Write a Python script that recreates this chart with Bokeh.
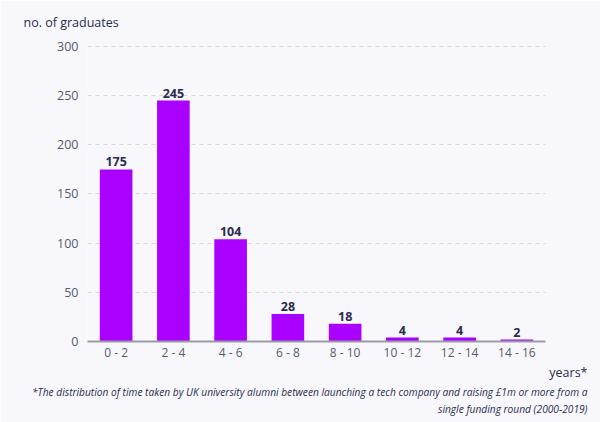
from bokeh.plotting import figure
from bokeh.models import FactorRange, Range1d, Title, FixedTicker, ColumnDataSource
from bokeh.core.properties import value
from bokeh.embed import file_html
from bokeh.resources import INLINE

categories = ["0 - 2", "2 - 4", "4 - 6", "6 - 8", "8 - 10", "10 - 12", "12 - 14", "14 - 16"]
graduates = [175, 245, 104, 28, 18, 4, 4, 2]
y_ticks = [0, 50, 100, 150, 200, 250, 300]

FONT = "Open Sans"
BG = "#f8f8fc"
BAR = "#aa00ff"
DARK = "#2a2c4e"
GREY = "#555a6e"

src = ColumnDataSource(dict(cat=categories, val=graduates, lab=[str(v) for v in graduates]))

p = figure(x_range=FactorRange(*categories), y_range=Range1d(0, 301),
           width=600, height=422, output_backend="svg", toolbar_location=None,
           min_border_left=87, min_border_right=55, min_border_top=45, min_border_bottom=81)
p.background_fill_color = BG
p.border_fill_color = BG
p.outline_line_color = None

p.vbar(x="cat", top="val", width=0.57, source=src, color=BAR, line_color=None)
p.text(x="cat", y="val", text="lab", source=src, text_align="center", text_baseline="bottom",
       y_offset=-3, text_font=value(FONT), text_font_style="bold", text_font_size="12.5px",
       text_color=DARK)

p.xgrid.grid_line_color = None
p.ygrid.grid_line_color = "#d6d6de"
p.ygrid.grid_line_dash = "4 4"
p.ygrid.grid_line_width = 1

p.yaxis.ticker = FixedTicker(ticks=y_ticks)
p.yaxis.axis_line_color = None
p.yaxis.major_tick_line_color = None
p.yaxis.minor_tick_line_color = None
p.yaxis.major_tick_out = 0
p.yaxis.major_label_text_font = FONT
p.yaxis.major_label_text_font_size = "12.5px"
p.yaxis.major_label_text_color = GREY
p.yaxis.major_label_standoff = 9

p.xaxis.axis_line_color = "#9a9aa6"
p.xaxis.axis_line_width = 2
p.xaxis.major_tick_line_color = None
p.xaxis.minor_tick_line_color = None
p.xaxis.major_tick_out = 0
p.xaxis.major_label_text_font = FONT
p.xaxis.major_label_text_font_size = "12px"
p.xaxis.major_label_text_color = GREY
p.xaxis.major_label_standoff = 2

p.add_layout(Title(text="no. of graduates", align="left", offset=-64, standoff=25,
                   vertical_align="top",
                   text_font=FONT, text_font_size="12.5px", text_font_style="normal",
                   text_color=DARK), "above")
p.add_layout(Title(text="years*", align="right", offset=-42, standoff=0,
                   vertical_align="top",
                   text_font=FONT, text_font_size="12.5px", text_font_style="normal",
                   text_color=DARK), "below")
p.add_layout(Title(text="*The distribution of time taken by UK university alumni between launching a tech company and raising £1m or more from a",
                   align="right", offset=-42, standoff=1, vertical_align="bottom",
                   text_font=FONT, text_font_size="10.2px", text_font_style="italic",
                   text_color=DARK), "below")
p.add_layout(Title(text="single funding round (2000-2019)",
                   align="right", offset=-42, standoff=0, vertical_align="bottom",
                   text_font=FONT, text_font_size="10.2px", text_font_style="italic",
                   text_color=DARK), "below")

open("out.html", "w").write(file_html(p, INLINE))
